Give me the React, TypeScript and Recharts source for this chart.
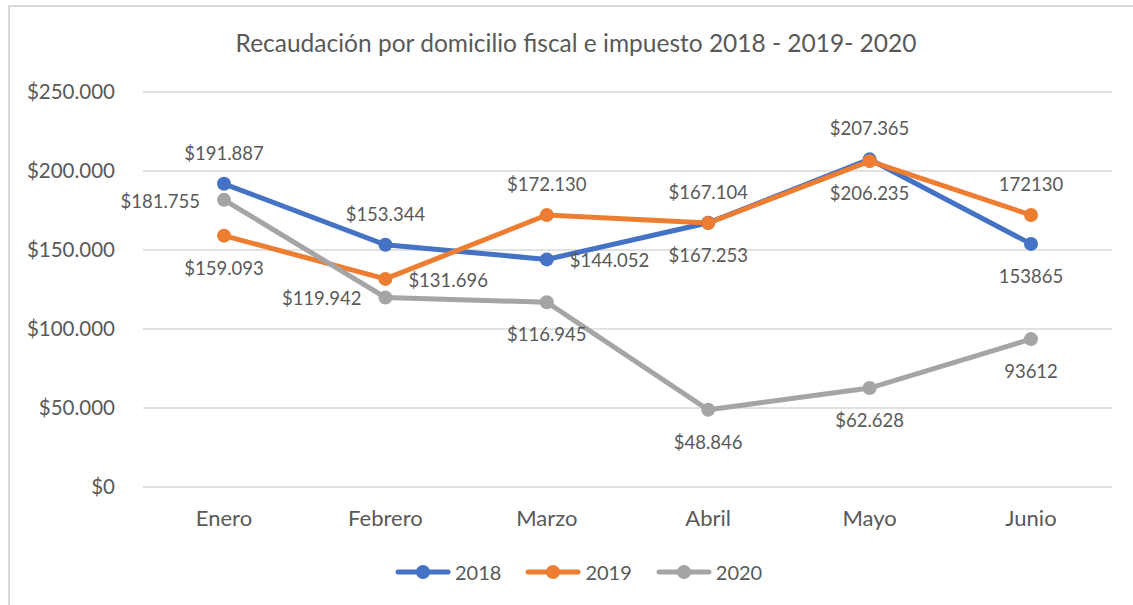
import React from 'react';
import { LineChart, Line, XAxis, YAxis, CartesianGrid, LabelList } from 'recharts';

const months = ['Enero', 'Febrero', 'Marzo', 'Abril', 'Mayo', 'Junio'];
const values2018 = [191887, 153344, 144052, 167253, 207365, 153865];
const values2019 = [159093, 131696, 172130, 167104, 206235, 172130];
const values2020 = [181755, 119942, 116945, 48846, 62628, 93612];
const yTicks = [0, 50000, 100000, 150000, 200000, 250000];

const labelPos2018 = ['top', 'top', 'right', 'bottom', 'top', 'bottom'];
const labelPos2019 = ['bottom', 'right', 'top', 'top', 'bottom', 'top'];
const labelPos2020 = ['left', 'left', 'bottom', 'bottom', 'bottom', 'bottom'];

const data = months.map((m, i) => ({
  month: m,
  y2018: values2018[i],
  y2019: values2019[i],
  y2020: values2020[i],
}));

const FONT = 'Lato, "Open Sans", sans-serif';
const TEXT = '#595959';

const dotted = (n: number) => n.toString().replace(/\B(?=(\d{3})+(?!\d))/g, '.');
const fmtTick = (v: number) => '$' + dotted(v);
const fmtLabel = (v: number, i: number) => (i === 5 ? String(v) : '$' + dotted(v));

const makeLabel = (positions: string[]) => (props: any) => {
  const { x, y, value, index } = props;
  const pos = positions[index];
  let tx = x;
  let ty = y;
  let anchor: 'start' | 'middle' | 'end' = 'middle';
  if (pos === 'top') ty = y - 31;
  else if (pos === 'bottom') ty = y + 32;
  else if (pos === 'right') { tx = x + 23; anchor = 'start'; ty = y + 1; }
  else if (pos === 'left') { tx = x - 24; anchor = 'end'; ty = y + 1; }
  return (
    <text x={tx} y={ty} textAnchor={anchor} dominantBaseline="central" fill={TEXT} fontSize={18.5} fontFamily={FONT}>
      {fmtLabel(value, index)}
    </text>
  );
};

const series = [
  { key: 'y2018', name: '2018', color: '#4472C4', pos: labelPos2018 },
  { key: 'y2019', name: '2019', color: '#ED7D31', pos: labelPos2019 },
  { key: 'y2020', name: '2020', color: '#A5A5A5', pos: labelPos2020 },
];

const LegendBox = () => (
  <div style={{ position: 'absolute', left: 395, top: 560, height: 24, display: 'flex', alignItems: 'center', fontFamily: FONT, fontSize: 20, color: TEXT }}>
    {series.map((s, i) => (
      <div key={s.key} style={{ display: 'flex', alignItems: 'center', marginRight: i < 2 ? 24 : 0 }}>
        <svg width={56} height={16} style={{ marginRight: 4 }}>
          <line x1={3} y1={8} x2={53} y2={8} stroke={s.color} strokeWidth={5} strokeLinecap="round" />
          <circle cx={28} cy={8} r={7} fill={s.color} />
        </svg>
        <span>{s.name}</span>
      </div>
    ))}
  </div>
);

export default function App() {
  return (
    <div style={{ position: 'absolute', left: 0, top: 0, width: 1133, height: 605, background: '#fff', overflow: 'hidden' }}>
      <div style={{ position: 'absolute', left: 8, top: 5, width: 1200, height: 700, borderLeft: '2px solid #d9d9d9', borderTop: '2px solid #d9d9d9', boxSizing: 'border-box' }} />
      <div style={{ position: 'absolute', left: 0, width: 1152, top: 28, textAlign: 'center', fontFamily: FONT, fontSize: 24.5, color: TEXT }}>
        Recaudación por domicilio fiscal e impuesto 2018 - 2019- 2020
      </div>
      <div style={{ position: 'absolute', left: 0, top: 0 }}>
        <LineChart width={1133} height={605} data={data} margin={{ top: 92, right: 21, bottom: 88, left: 0 }}>
          <CartesianGrid vertical={false} stroke="#d9d9d9" strokeWidth={1.5} />
          <XAxis
            dataKey="month"
            height={30}
            axisLine={false}
            tickLine={false}
            padding={{ left: 81, right: 81 }}
            tick={{ fill: TEXT, fontSize: 22, fontFamily: FONT }}
            tickMargin={17}
            interval={0}
          />
          <YAxis
            width={143}
            domain={[0, 250000]}
            ticks={yTicks}
            axisLine={false}
            tickLine={false}
            tickSize={0}
            tickMargin={28}
            tickFormatter={fmtTick}
            tick={{ fill: TEXT, fontSize: 20.5, fontFamily: FONT }}
          />
          {series.map((s) => (
            <Line
              key={s.key}
              type="linear"
              dataKey={s.key}
              name={s.name}
              stroke={s.color}
              strokeWidth={5}
              dot={{ r: 7, fill: s.color, stroke: s.color, strokeWidth: 0 }}
              activeDot={false}
              isAnimationActive={false}
            >
              <LabelList dataKey={s.key} content={makeLabel(s.pos)} />
            </Line>
          ))}
        </LineChart>
      </div>
      <LegendBox />
    </div>
  );
}
